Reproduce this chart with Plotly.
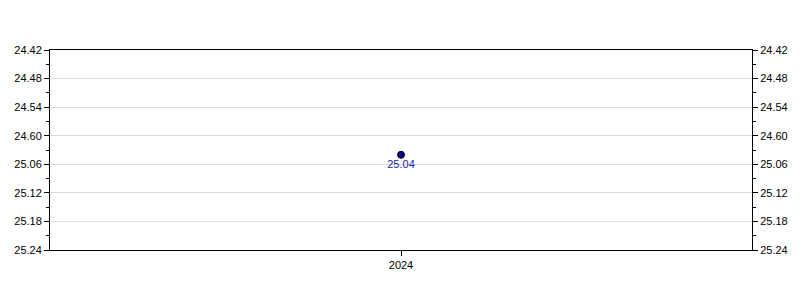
import plotly.graph_objects as go

# Data
years = ["2024"]
times_sec = [1504]            # 25 min 04 s
point_labels = ["25.04"]
tick_secs = [1482, 1488, 1494, 1500, 1506, 1512, 1518, 1524]
tick_labels = ["24.42", "24.48", "24.54", "24.60", "25.06", "25.12", "25.18", "25.24"]

minor_vals = [(a + b) / 2 for a, b in zip(tick_secs[:-1], tick_secs[1:])]
yrange = [max(tick_secs), min(tick_secs)]

fig = go.Figure()
fig.add_trace(go.Scatter(
    x=years, y=times_sec, mode="markers+text",
    text=point_labels, textposition="bottom center",
    textfont=dict(color="#1a1aa6", size=11, family="Liberation Sans, Arial"),
    marker=dict(color="#0a0a8a", size=7, line=dict(color="#000000", width=1)),
    showlegend=False, cliponaxis=False, hoverinfo="skip",
))
fig.add_trace(go.Scatter(
    x=years, y=times_sec, yaxis="y2", mode="markers",
    marker=dict(opacity=0), showlegend=False, hoverinfo="skip",
))

axis_common = dict(
    range=yrange, tickmode="array", tickvals=tick_secs, ticktext=tick_labels,
    ticks="outside", ticklen=5, tickcolor="#000000", tickwidth=1,
    showline=True, linecolor="#000000", linewidth=1,
    tickfont=dict(size=11, color="#000000"),
    minor=dict(tickmode="array", tickvals=minor_vals, ticks="outside",
               ticklen=3, tickcolor="#000000", showgrid=False),
    zeroline=False,
)

fig.update_layout(
    width=800, height=300,
    margin=dict(l=50, r=48, t=50, b=50),
    paper_bgcolor="#ffffff", plot_bgcolor="#ffffff",
    font=dict(family="Liberation Sans, Arial", size=11, color="#000000"),
    xaxis=dict(type="category", showline=True, linecolor="#000000", mirror=True,
               ticks="outside", ticklen=5, tickcolor="#000000", showgrid=False,
               tickfont=dict(size=11)),
    yaxis=dict(**axis_common, side="left", showgrid=True, gridcolor="#dddddd"),
    yaxis2=dict(**axis_common, side="right", overlaying="y", showgrid=False),
)

fig.write_html("out.html")
